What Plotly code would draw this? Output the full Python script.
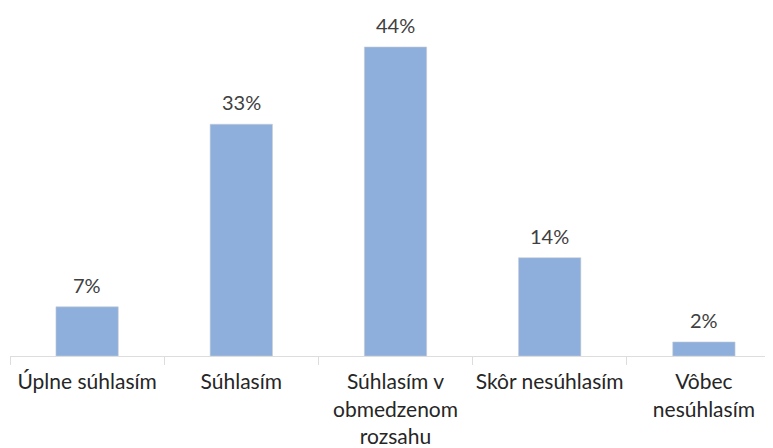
import plotly.graph_objects as go

categories = ["Úplne súhlasím", "Súhlasím", "Súhlasím v<br>obmedzenom<br>rozsahu",
              "Skôr nesúhlasím", "Vôbec<br>nesúhlasím"]
values = [7, 33, 44, 14, 2]
labels = ["7%", "33%", "44%", "14%", "2%"]

bar = go.Bar(x=categories, y=values,
             marker=dict(color="#8EAEDC", line=dict(color="#C8CCD2", width=0.6)))

# value labels sit a bit higher above the bars than plotly's outside text
annots = [dict(x=c, y=v, text=t, showarrow=False, yanchor="bottom", yshift=8,
               font=dict(size=20, color="#404040"))
          for c, v, t in zip(categories, values, labels)]

# page body has an 8px margin, margins below account for it
layout = go.Layout(
    width=773, height=448,
    margin=dict(l=2, r=0, t=0, b=100, autoexpand=False),
    paper_bgcolor="white", plot_bgcolor="white",
    font=dict(family="Lato, Open Sans, sans-serif", size=21, color="#262626"),
    bargap=0.596, showlegend=False,
    annotations=annots,
    xaxis=dict(showline=True, linecolor="#DDDDDD", linewidth=1, automargin=False,
               ticks="outside", tickson="boundaries", ticklen=8,
               tickcolor="#DDDDDD", tickangle=0, ticklabelstandoff=7,
               tickfont=dict(size=21, color="#262626")),
    yaxis=dict(range=[0, 49.55], visible=False, showgrid=False, automargin=False),
)

fig = go.Figure(data=[bar], layout=layout)
fig.write_html("out.html")
